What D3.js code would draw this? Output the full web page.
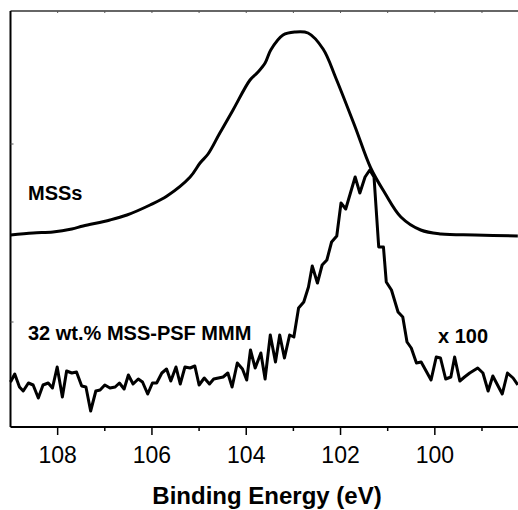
<!DOCTYPE html>
<html lang="en">
<head>
  <meta charset="UTF-8">
  <title>XPS Si 2p spectra</title>
  <script src="https://d3js.org/d3.v7.min.js"></script>
  <style>
    body { margin: 0; background: #fff; }
    .tick-label {
      font-family: "Liberation Sans", Arial, sans-serif;
      font-size: 23px;
      fill: #000;
      text-anchor: middle;
    }
    .series-label {
      font-family: "Liberation Sans", Arial, sans-serif;
      font-size: 20px;
      font-weight: bold;
      fill: #000;
    }
    .axis-title {
      font-family: "Liberation Sans", Arial, sans-serif;
      font-size: 24px;
      font-weight: bold;
      fill: #000;
      text-anchor: middle;
    }
  </style>
</head>
<body>
  <div id="chart"></div>

  <script>
    // MSSs spectrum (binding energy in eV, intensity in a.u.)
    const mssEnergy = [109.0, 108.52, 108.10, 107.70, 107.46, 106.89, 106.53, 106.04, 105.68,
      105.19, 104.98, 104.81, 104.56, 104.28, 103.92, 103.75, 103.60, 103.48, 103.22, 102.97,
      102.69, 102.37, 102.10, 101.69, 101.36, 101.06, 100.72, 100.30, 99.87, 99.15, 98.24];
    const mssIntensity = [192, 194, 195, 198, 201, 207, 212, 222, 231,
      250, 264, 273, 294, 317, 347, 355, 364, 377, 392, 395,
      394, 378, 349, 300, 259, 234, 210, 197, 193, 192, 191];

    // 32 wt.% MSS-PSF MMM spectrum (x 100)
    const mmmEnergy = [109.0, 108.91, 108.81, 108.73, 108.62, 108.52, 108.41, 108.31, 108.20, 108.11,
      108.01, 107.90, 107.81, 107.70, 107.60, 107.49, 107.40, 107.30, 107.19, 107.10,
      107.00, 106.89, 106.78, 106.69, 106.59, 106.50, 106.40, 106.29, 106.20, 106.09,
      105.99, 105.90, 105.79, 105.69, 105.60, 105.49, 105.40, 105.30, 105.19, 105.09,
      105.00, 104.89, 104.78, 104.69, 104.59, 104.49, 104.39, 104.30, 104.19, 104.08,
      103.99, 103.91, 103.81, 103.69, 103.60, 103.49, 103.38, 103.29, 103.19, 103.08,
      102.99, 102.89, 102.78, 102.68, 102.60, 102.49, 102.39, 102.29, 102.19, 102.08,
      101.99, 101.89, 101.79, 101.69, 101.59, 101.48, 101.38, 101.29, 101.19, 101.09,
      101.03, 100.92, 100.78, 100.68, 100.59, 100.50, 100.39, 100.29, 100.08, 99.97,
      99.88, 99.77, 99.66, 99.58, 99.47, 99.37, 99.26, 99.09, 98.98, 98.87,
      98.77, 98.57, 98.46, 98.34, 98.24];
    const mmmIntensity = [45, 53, 40, 36, 44, 42, 29, 42, 44, 39,
      60, 30, 56, 54, 55, 41, 40, 16, 36, 37,
      42, 39, 40, 44, 38, 52, 43, 48, 45, 33,
      44, 44, 54, 58, 46, 60, 43, 60, 59, 61,
      42, 49, 43, 48, 49, 50, 54, 40, 64, 58,
      47, 77, 59, 74, 48, 92, 65, 92, 69, 92,
      90, 119, 125, 140, 161, 144, 162, 167, 185, 191,
      224, 218, 234, 250, 234, 250, 257, 250, 180, 180,
      145, 137, 115, 110, 85, 79, 64, 65, 47, 70,
      69, 48, 50, 70, 46, 50, 54, 59, 54, 36,
      51, 33, 54, 49, 42];

    const majorTicks = [108, 106, 104, 102, 100];
    const minorTicks = [107, 105, 103, 101, 99];
    const leftTicks = [105, 283];

    const W = 518, H = 510;
    const svg = d3.select("#chart").append("svg")
      .attr("width", W)
      .attr("height", H);

    const x = d3.scaleLinear().domain([109.0, 98.2]).range([10.5, 519.7]);
    const y = d3.scaleLinear().domain([0, 416]).range([427, 11]);

    const mss = mssEnergy.map((e, i) => ({ e, v: mssIntensity[i] }));
    const mmm = mmmEnergy.map((e, i) => ({ e, v: mmmIntensity[i] }));

    // frame
    svg.append("line")
      .attr("x1", x(109.0)).attr("x2", x(98.2))
      .attr("y1", y(416)).attr("y2", y(416))
      .attr("stroke", "#333").attr("stroke-width", 1.5);
    svg.append("line")
      .attr("x1", x(109.0)).attr("x2", x(98.2))
      .attr("y1", y(0)).attr("y2", y(0))
      .attr("stroke", "#000").attr("stroke-width", 2);
    svg.append("line")
      .attr("x1", x(109.0)).attr("x2", x(109.0))
      .attr("y1", y(0)).attr("y2", y(416))
      .attr("stroke", "#000").attr("stroke-width", 2);

    // bottom ticks (outward)
    svg.selectAll(".major").data(majorTicks).enter().append("line")
      .attr("x1", d => x(d)).attr("x2", d => x(d))
      .attr("y1", y(0)).attr("y2", y(0) + 8)
      .attr("stroke", "#000").attr("stroke-width", 1.5);
    svg.selectAll(".minor").data(minorTicks).enter().append("line")
      .attr("x1", d => x(d)).attr("x2", d => x(d))
      .attr("y1", y(0)).attr("y2", y(0) + 4)
      .attr("stroke", "#000").attr("stroke-width", 1.5);

    // top ticks (inward, small)
    svg.selectAll(".topTick").data(majorTicks.concat(minorTicks)).enter().append("line")
      .attr("x1", d => x(d)).attr("x2", d => x(d))
      .attr("y1", y(416)).attr("y2", y(416) + 2)
      .attr("stroke", "#555").attr("stroke-width", 1);

    // left ticks (inward, small)
    svg.selectAll(".leftTick").data(leftTicks).enter().append("line")
      .attr("x1", x(109.0)).attr("x2", x(109.0) + 3)
      .attr("y1", d => y(d)).attr("y2", d => y(d))
      .attr("stroke", "#555").attr("stroke-width", 1);

    svg.selectAll(".tick-label").data(majorTicks).enter().append("text")
      .attr("class", "tick-label")
      .attr("x", d => x(d))
      .attr("y", 462.5)
      .text(d => d);

    svg.append("text")
      .attr("class", "axis-title")
      .attr("x", 267)
      .attr("y", 504)
      .text("Binding Energy (eV)");

    const line = d3.line()
      .x(d => x(d.e))
      .y(d => y(d.v));

    svg.append("path")
      .attr("d", line.curve(d3.curveCatmullRom)(mss))
      .attr("fill", "none")
      .attr("stroke", "#000")
      .attr("stroke-width", 3)
      .attr("stroke-linejoin", "round");

    svg.append("path")
      .attr("d", line.curve(d3.curveLinear)(mmm))
      .attr("fill", "none")
      .attr("stroke", "#000")
      .attr("stroke-width", 3)
      .attr("stroke-linejoin", "round");

    svg.append("text").attr("class", "series-label")
      .attr("x", 28).attr("y", 199.5).text("MSSs");
    svg.append("text").attr("class", "series-label")
      .attr("x", 28).attr("y", 340).text("32 wt.% MSS-PSF MMM");
    svg.append("text").attr("class", "series-label")
      .attr("x", 438).attr("y", 342.5).text("x 100");
  </script>
</body>
</html>
